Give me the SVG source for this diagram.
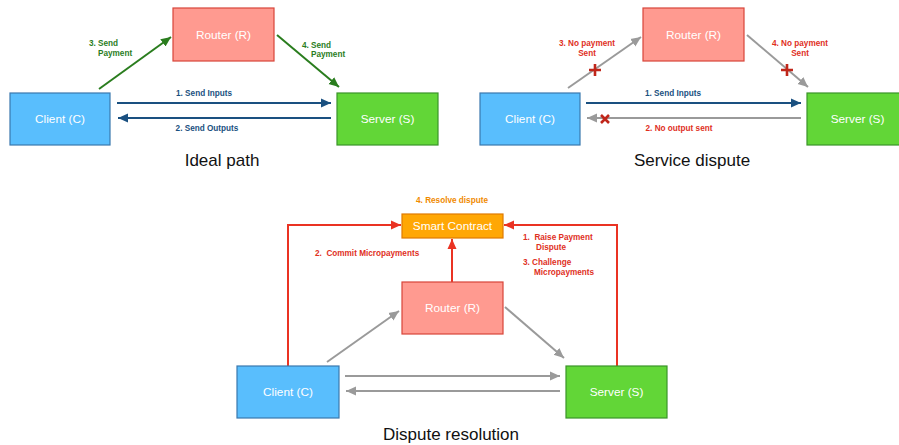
<svg xmlns="http://www.w3.org/2000/svg" width="899" height="445" viewBox="0 0 899 445">
<style>
.box{stroke-width:1.2}
.client{fill:#59BEFD;stroke:#3A78AE}
.router{fill:#FF9A90;stroke:#D8453A}
.server{fill:#62D637;stroke:#3A9428}
.sc{fill:#FFA705;stroke:#E07A00}
.bt{font-family:"Liberation Sans",Arial,sans-serif;font-size:11.8px;fill:#fff;text-anchor:middle}
.lbl{font-family:"Liberation Sans",Arial,sans-serif;font-size:8.2px;font-weight:bold}
.g{fill:#2A7D1E}
.b{fill:#1A5080}
.r{fill:#E0301E}
.o{fill:#F08A00}
.title{font-family:"Liberation Sans",Arial,sans-serif;font-size:17px;fill:#111;text-anchor:middle}
.cg{stroke:#2A7D1E;stroke-width:2;fill:none}
.cb{stroke:#1A5080;stroke-width:2;fill:none}
.cy{stroke:#9A9A9A;stroke-width:2;fill:none}
.cr{stroke:#EA3323;stroke-width:2;fill:none}
.mk{stroke:#C0261A;stroke-width:2.6;fill:none}
</style>
<defs>
<marker id="ag" markerUnits="userSpaceOnUse" markerWidth="11" markerHeight="11" refX="10" refY="5.5" orient="auto"><path d="M0,1 L10,5.5 L0,10 z" fill="#2A7D1E"/></marker>
<marker id="ab" markerUnits="userSpaceOnUse" markerWidth="11" markerHeight="11" refX="10" refY="5.5" orient="auto"><path d="M0,1 L10,5.5 L0,10 z" fill="#1A5080"/></marker>
<marker id="ay" markerUnits="userSpaceOnUse" markerWidth="11" markerHeight="11" refX="10" refY="5.5" orient="auto"><path d="M0,1 L10,5.5 L0,10 z" fill="#9A9A9A"/></marker>
<marker id="ar" markerUnits="userSpaceOnUse" markerWidth="11" markerHeight="11" refX="10" refY="5.5" orient="auto"><path d="M0,1 L10,5.5 L0,10 z" fill="#EA3323"/></marker>
</defs>
<rect width="899" height="445" fill="#fff"/>

<g id="connectors">
<line class="cg" x1="99" y1="89" x2="171" y2="37" marker-end="url(#ag)"/>
<line class="cg" x1="277" y1="35" x2="339" y2="87" marker-end="url(#ag)"/>
<line class="cb" x1="117" y1="103" x2="331" y2="103" marker-end="url(#ab)"/>
<line class="cb" x1="331" y1="118" x2="118" y2="118" marker-end="url(#ab)"/>
<line class="cy" x1="568" y1="88" x2="641" y2="37" marker-end="url(#ay)"/>
<line class="cy" x1="747" y1="35" x2="808" y2="87" marker-end="url(#ay)"/>
<line class="cb" x1="586" y1="103" x2="801" y2="103" marker-end="url(#ab)"/>
<line class="cy" x1="801" y1="118" x2="587" y2="118" marker-end="url(#ay)"/>
<path class="mk" d="M595,64 V76 M589,70 H601"/>
<path class="mk" d="M787,64 V76 M781,70 H793"/>
<path class="mk" d="M601,115 L609,123 M609,115 L601,123"/>
<polyline class="cr" points="288,366 288,225 401,225" marker-end="url(#ar)"/>
<polyline class="cr" points="617,366 617,225 504,225" marker-end="url(#ar)"/>
<line class="cr" x1="452" y1="282" x2="452" y2="239" marker-end="url(#ar)"/>
<line class="cy" x1="327" y1="362" x2="399" y2="311" marker-end="url(#ay)"/>
<line class="cy" x1="505" y1="307" x2="564" y2="358" marker-end="url(#ay)"/>
<line class="cy" x1="345" y1="376" x2="560" y2="376" marker-end="url(#ay)"/>
<line class="cy" x1="560" y1="391" x2="346" y2="391" marker-end="url(#ay)"/>
</g>

<g id="ideal-router"><rect class="box router" x="173" y="8" width="101" height="53"/><text class="bt" x="223.5" y="39">Router (R)</text></g>
<g id="ideal-client"><rect class="box client" x="10" y="93" width="100" height="52"/><text class="bt" x="60" y="123">Client (C)</text></g>
<g id="ideal-server"><rect class="box server" x="337" y="93" width="101" height="52"/><text class="bt" x="387.5" y="123">Server (S)</text></g>

<g id="sd-router"><rect class="box router" x="643" y="8" width="101" height="53"/><text class="bt" x="693.5" y="39">Router (R)</text></g>
<g id="sd-client"><rect class="box client" x="480" y="93" width="100" height="52"/><text class="bt" x="530" y="123">Client (C)</text></g>
<g id="sd-server"><rect class="box server" x="807" y="93" width="101" height="52"/><text class="bt" x="857.5" y="123">Server (S)</text></g>

<g id="dr-contract"><rect class="box sc" x="402" y="214" width="101" height="24"/><text class="bt" x="452.5" y="230">Smart Contract</text></g>
<g id="dr-router"><rect class="box router" x="402" y="282" width="101" height="52"/><text class="bt" x="452.5" y="312">Router (R)</text></g>
<g id="dr-client"><rect class="box client" x="237" y="366" width="102" height="52"/><text class="bt" x="288" y="396">Client (C)</text></g>
<g id="dr-server"><rect class="box server" x="566" y="366" width="101" height="52"/><text class="bt" x="616.5" y="396">Server (S)</text></g>

<g id="labels">
<text class="lbl g" x="89" y="46">3. Send</text>
<text class="lbl g" x="98" y="56">Payment</text>
<text class="lbl g" x="302" y="48">4. Send</text>
<text class="lbl g" x="311" y="57">Payment</text>
<text class="lbl b" x="204" y="96" text-anchor="middle">1. Send Inputs</text>
<text class="lbl b" x="207" y="131" text-anchor="middle">2. Send Outputs</text>

<text class="lbl r" x="587" y="46" text-anchor="middle">3. No payment</text>
<text class="lbl r" x="587" y="56" text-anchor="middle">Sent</text>
<text class="lbl r" x="800" y="46" text-anchor="middle">4. No payment</text>
<text class="lbl r" x="800" y="56" text-anchor="middle">Sent</text>
<text class="lbl b" x="673" y="96" text-anchor="middle">1. Send Inputs</text>
<text class="lbl r" x="679" y="131" text-anchor="middle">2. No output sent</text>

<text class="lbl o" x="452" y="203" text-anchor="middle">4. Resolve dispute</text>
<text class="lbl r" x="315" y="256" xml:space="preserve">2.  Commit Micropayments</text>
<text class="lbl r" x="523" y="240" xml:space="preserve">1.  Raise Payment</text>
<text class="lbl r" x="536" y="250">Dispute</text>
<text class="lbl r" x="523" y="265">3. Challenge</text>
<text class="lbl r" x="534" y="275">Micropayments</text>

<text class="title" x="222" y="166">Ideal path</text>
<text class="title" x="692" y="166">Service dispute</text>
<text class="title" x="451" y="440">Dispute resolution</text>
</g>
</svg>
